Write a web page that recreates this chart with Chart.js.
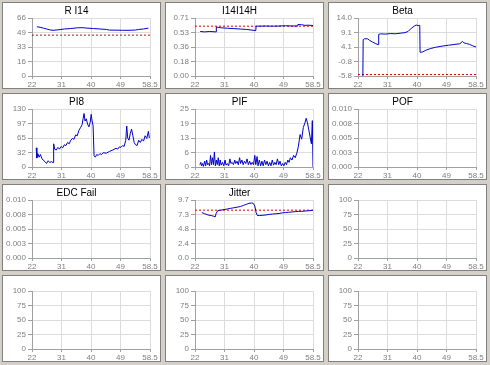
<!DOCTYPE html>
<html>
<head>
<meta charset="utf-8">
<script src="https://cdn.jsdelivr.net/npm/chart.js@4"></script>
<style>
  html, body { margin: 0; padding: 0; background: #d4d0c8; }
  #grid { position: relative; width: 490px; height: 365px; }
  .panel { position: absolute; width: 157px; height: 85px; border: 1px solid #808080; background: #fff; }
  .panel canvas { display: block; }
</style>
</head>
<body>
<div id="grid"></div>
<script>
// x axis shared by every panel
const xTickLabels = ["22", "31", "40", "49", "58.5"];
const xTickValues = [22, 31.125, 40.25, 49.375, 58.5];

// R I14
const ri14X = [23.5, 24.5, 25.5, 26.5, 27.5, 28.5, 30, 32, 34, 36, 37.5, 39, 41, 43, 45, 46, 48, 50, 52, 54, 55, 56.5, 58];
const ri14Y = [56, 55.5, 54.5, 53.5, 52.5, 52, 52.5, 53.5, 54, 54.8, 55, 54.5, 54, 53.5, 53, 52.2, 52.2, 52, 52, 52.3, 53, 53.5, 54.5];
const ri14Limit = 46.5;
const ri14Ticks = ["0", "16", "33", "49", "66"];

// I14I14H
const i14X = [23.6, 25, 26.5, 28.5, 28.6, 30, 32, 34, 36, 38, 40.8, 40.9, 42, 44, 46, 48, 50, 52, 53.6, 53.8, 55, 56, 57, 58.5];
const i14Y = [0.545, 0.54, 0.545, 0.54, 0.6, 0.59, 0.585, 0.58, 0.575, 0.57, 0.555, 0.61, 0.61, 0.612, 0.61, 0.612, 0.615, 0.612, 0.612, 0.63, 0.628, 0.62, 0.622, 0.618];
const i14Limit = 0.61;
const i14Ticks = ["0.00", "0.18", "0.36", "0.53", "0.71"];

// Beta
const betaX = [23.5, 23.6, 24, 25, 25.5, 26.5, 27.5, 28.3, 28.4, 29, 30.5, 32, 33.5, 35, 36.5, 37.5, 38.5, 39.5, 40, 40.6, 41.1, 41.2, 42, 43, 44.5, 46, 48, 50, 52, 53.5, 54.3, 54.8, 55.5, 56.5, 57.5, 58.5];
const betaY = [-5.8, 6.6, 6.9, 6.9, 6.4, 5.8, 5.2, 4.9, 8.4, 8.6, 8.5, 8.7, 8.6, 8.8, 9.0, 9.4, 10.5, 11.3, 11.6, 11.4, 11.5, 2.3, 2.4, 3.0, 3.6, 4.0, 4.4, 4.7, 5.0, 5.2, 6.0, 5.5, 5.3, 5.0, 4.5, 4.1];
const betaLimit = -5.3;
const betaTicks = ["-5.8", "-0.8", "4.1", "9.1", "14.0"];

// PI8
const pi8X = [23.3, 23.5, 23.8, 24.2, 24.6, 25, 25.5, 26, 26.5, 27, 27.5, 28, 28.5, 28.7, 29, 29.5, 30, 30.5, 31, 31.5, 32, 32.5, 33, 33.5, 34, 34.5, 35, 35.5, 36, 36.5, 37, 37.5, 37.8, 38.1, 38.4, 38.8, 39.2, 39.6, 40, 40.3, 40.6, 40.9, 41.2, 41.6, 42, 42.5, 43, 43.5, 44, 45, 46, 47, 48, 48.5, 49, 49.5, 50, 50.5, 51, 51.3, 51.6, 52, 52.4, 52.8, 53.2, 53.6, 54, 54.5, 55, 55.5, 56, 56.5, 57, 57.5, 58, 58.3];
const pi8Y = [43, 20, 30, 22, 28, 20, 15, 12, 8, 14, 10, 12, 10, 52, 40, 38, 44, 40, 46, 43, 50, 48, 55, 52, 60, 64, 62, 72, 70, 82, 88, 95, 108, 120, 103, 108, 96, 90, 100, 118, 103, 92, 25, 22, 28, 26, 30, 28, 32, 31, 35, 38, 42, 40, 45, 44, 48, 46, 60, 92, 65, 60, 75, 85, 70, 55, 50, 48, 60, 55, 62, 58, 70, 64, 80, 65];
const pi8Ticks = ["0", "32", "65", "97", "130"];

// PIF
const pifX = [23.5, 23.8, 24, 24.3, 24.6, 25, 25.3, 25.6, 25.9, 26.2, 26.5, 26.8, 27.1, 27.4, 27.7, 28, 28.3, 28.6, 28.9, 29.2, 29.5, 29.8, 30.1, 30.5, 30.9, 31.3, 31.6, 32, 32.4, 32.8, 33.1, 33.5, 33.9, 34.3, 34.6, 35, 35.4, 35.8, 36.1, 36.5, 36.9, 37.3, 37.7, 38.1, 38.5, 38.9, 39.3, 39.7, 40.1, 40.5, 40.8, 41.2, 41.5, 41.9, 42.3, 42.7, 43.1, 43.5, 43.9, 44.3, 44.7, 45.1, 45.5, 45.9, 46.3, 46.7, 47.1, 47.5, 47.9, 48.3, 48.7, 49.1, 49.5, 49.9, 50.3, 50.7, 51.1, 51.5, 52, 52.5, 53, 53.5, 54, 54.5, 55, 55.5, 56, 56.4, 56.8, 57.2, 57.6, 58, 58.3, 58.5];
const pifY = [1, 2, 0.5, 1.5, 0.3, 2.5, 0.5, 3, 1, 1.5, 0.5, 5, 1, 4, 1, 6.5, 0.5, 3, 1, 4, 0.5, 3, 0.8, 2, 0.5, 3, 0.8, 1.5, 0.5, 3.5, 1.5, 2, 1, 3, 1.5, 2.5, 1, 4, 1.5, 3, 1, 2.5, 1.5, 3.5, 1, 2.5, 1, 2, 1, 5, 1, 4.5, 0.5, 3, 0.5, 2.5, 0.5, 3, 1, 2.5, 0.5, 2, 0.5, 3, 0.8, 2, 1, 3.5, 1, 2.5, 0.5, 1.5, 0.5, 2, 1, 3, 2, 4, 3, 5, 4, 6, 9, 14, 12, 17, 19, 21, 19, 16, 13, 10, 20, 0];
const pifTicks = ["0", "6", "13", "19", "25"];

// POF / EDC Fail
const smallTicks = ["0.000", "0.003", "0.005", "0.008", "0.010"];

// Jitter
const jitterX = [24.1, 25, 26, 27, 27.7, 28.3, 28.5, 29, 30, 31, 32, 33, 34, 35, 36, 37, 38, 38.7, 39.5, 40, 40.5, 40.9, 41.3, 42, 43, 44, 45, 46, 47, 48, 49, 50, 51, 52, 53, 54, 55, 56, 57, 58, 58.5];
const jitterY = [7.6, 7.4, 7.2, 7.1, 7.0, 6.9, 7.4, 7.9, 8.0, 8.1, 8.2, 8.3, 8.4, 8.5, 8.6, 8.8, 9.0, 9.15, 9.2, 9.15, 8.7, 7.6, 7.1, 7.1, 7.15, 7.2, 7.3, 7.35, 7.4, 7.45, 7.55, 7.6, 7.65, 7.7, 7.75, 7.8, 7.8, 7.85, 7.9, 7.95, 8.0];
const jitterLimit = 8.0;
const jitterTicks = ["0.0", "2.4", "4.8", "7.3", "9.7"];

// empty panels
const pctTicks = ["0", "25", "50", "75", "100"];

const panels = [
    { title: "R I14", min: 0, max: 66, ticks: ri14Ticks, xs: ri14X, ys: ri14Y, limit: ri14Limit },
    { title: "I14I14H", min: 0, max: 0.71, ticks: i14Ticks, xs: i14X, ys: i14Y, limit: i14Limit },
    { title: "Beta", min: -5.8, max: 14, ticks: betaTicks, xs: betaX, ys: betaY, limit: betaLimit },
    { title: "PI8", min: 0, max: 130, ticks: pi8Ticks, xs: pi8X, ys: pi8Y },
    { title: "PIF", min: 0, max: 25, ticks: pifTicks, xs: pifX, ys: pifY },
    { title: "POF", min: 0, max: 0.01, ticks: smallTicks },
    { title: "EDC Fail", min: 0, max: 0.01, ticks: smallTicks },
    { title: "Jitter", min: 0, max: 9.7, ticks: jitterTicks, xs: jitterX, ys: jitterY, limit: jitterLimit },
    { title: "", min: 0, max: 100, ticks: pctTicks },
    { title: "", min: 0, max: 100, ticks: pctTicks },
    { title: "", min: 0, max: 100, ticks: pctTicks },
    { title: "", min: 0, max: 100, ticks: pctTicks }
];

Chart.defaults.font.family = "'Liberation Sans', Arial, sans-serif";
Chart.defaults.font.size = 8;
Chart.defaults.color = "#808080";

function makePanel(p, i) {
    const col = i % 3, row = Math.floor(i / 3);
    const div = document.createElement("div");
    div.className = "panel";
    div.style.left = (2 + col * 163) + "px";
    div.style.top = (2 + row * 91) + "px";
    const canvas = document.createElement("canvas");
    canvas.width = 157;
    canvas.height = 85;
    div.appendChild(canvas);
    document.getElementById("grid").appendChild(div);

    const datasets = [];
    if (p.xs) {
        datasets.push({
            data: p.xs.map((x, k) => ({ x: x, y: p.ys[k] })),
            borderColor: "#0000cc", borderWidth: 1, pointRadius: 0, tension: 0
        });
    }
    if (p.limit !== undefined) {
        datasets.push({
            data: [{ x: 22, y: p.limit }, { x: 58.5, y: p.limit }],
            borderColor: "#e00000", borderWidth: 1, borderDash: [2, 2], pointRadius: 0
        });
    }

    const step = (p.max - p.min) / 4;
    const yValues = [0, 1, 2, 3, 4].map(k => p.min + k * step);

    new Chart(canvas.getContext("2d"), {
        type: "line",
        data: { datasets: datasets },
        options: {
            responsive: false,
            animation: false,
            layout: { padding: { left: 0, right: 10, top: 0, bottom: 0 } },
            plugins: {
                legend: { display: false },
                tooltip: { enabled: false },
                title: {
                    display: true, text: p.title, color: "#000",
                    font: { size: 10, weight: "normal" },
                    padding: { top: 2, bottom: 1 }
                }
            },
            scales: {
                x: {
                    type: "linear", min: 22, max: 58.5,
                    afterBuildTicks: s => { s.ticks = xTickValues.map(v => ({ value: v })); },
                    afterFit: s => { s.height = 12; },
                    ticks: { autoSkip: false, maxRotation: 0, padding: 1, callback: (v, k) => xTickLabels[k] },
                    grid: { color: "#dcdcdc", tickLength: 3, tickColor: "#a0a0a0" },
                    border: { color: "#a0a0a0" }
                },
                y: {
                    min: p.min, max: p.max,
                    afterBuildTicks: s => { s.ticks = yValues.map(v => ({ value: v })); },
                    afterFit: s => { s.width = 29; },
                    ticks: { autoSkip: false, padding: 2, callback: (v, k) => p.ticks[k] },
                    grid: { color: "#dcdcdc", tickLength: 4, tickColor: "#a0a0a0" },
                    border: { color: "#a0a0a0" }
                }
            }
        }
    });
}

panels.forEach(makePanel);
</script>
</body>
</html>
